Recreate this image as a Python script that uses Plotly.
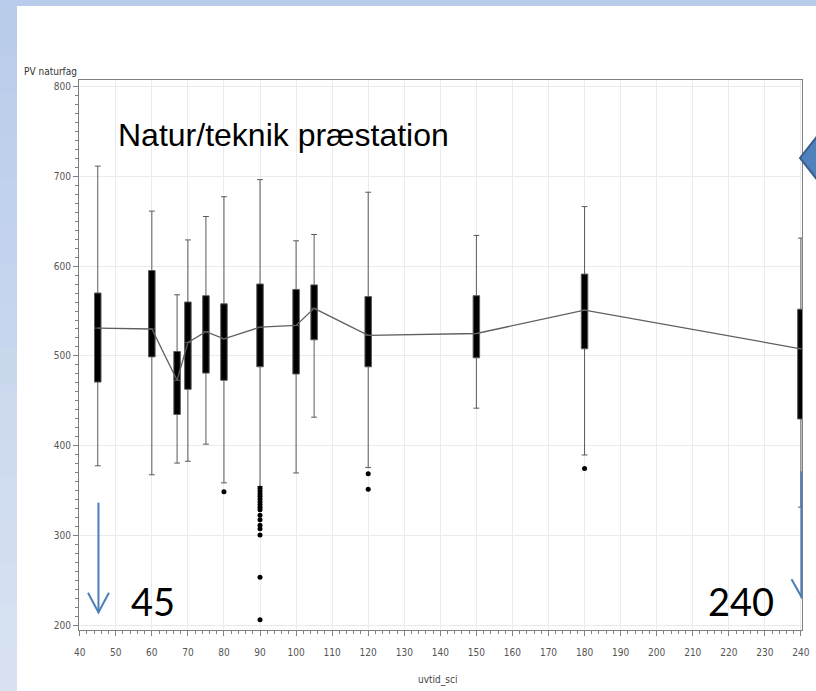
import plotly.graph_objects as go

# ---- data ----
uvtid = [45, 60, 67, 70, 75, 80, 90, 100, 105, 120, 150, 180, 240]
whisker_low = [378, 368, 381, 383, 402, 359, 355, 370, 432, 376, 442, 390, 332]
q1 = [471, 499, 435, 463, 481, 473, 488, 480, 518, 488, 498, 508, 430]
mean_pv = [531, 530, 473, 515, 527, 519, 532, 534, 553, 523, 525, 551, 508]
q3 = [570, 595, 505, 560, 567, 558, 580, 574, 579, 566, 567, 591, 552]
whisker_high = [711, 661, 568, 629, 655, 677, 696, 628, 635, 682, 634, 666, 631]

outlier_x = [80, 90, 90, 90, 90, 90, 90, 90, 90, 90, 90, 90, 90, 90, 90, 90, 90,
             120, 120, 180]
outlier_y = [349, 353, 350, 347, 344, 341, 338, 335, 332, 329, 323, 318, 312, 308, 301, 254, 207,
             369, 352, 375]

x_ticks = list(range(40, 241, 10))
y_ticks = list(range(200, 801, 100))

title_text = "Natur/teknik præstation"
y_title = "PV naturfag"
x_title = "uvtid_sci"
mark_left = "45"
mark_right = "240"

# ---- geometry helpers (page pixels -> paper) ----
W, H = 816, 691
L, R, T, B = 79, 14, 80, 61
PW, PH = W - L - R, H - T - B


def px(x):
    return (x - L) / PW


def py(y):
    return (H - B - y) / PH


fig = go.Figure()

fig.add_trace(go.Box(
    x=uvtid, q1=q1, median=mean_pv, q3=q3,
    lowerfence=whisker_low, upperfence=whisker_high,
    boxpoints=False, width=1.8, whiskerwidth=0.9,
    fillcolor="black", line=dict(color="#5a5a5a", width=1),
    showlegend=False, hoverinfo="skip",
))

fig.add_trace(go.Scatter(
    x=uvtid, y=mean_pv, mode="lines",
    line=dict(color="#5f5f5f", width=1.3),
    showlegend=False, hoverinfo="skip",
))

fig.add_trace(go.Scatter(
    x=outlier_x, y=outlier_y, mode="markers",
    marker=dict(color="black", size=5),
    showlegend=False, hoverinfo="skip",
))

small_font = "Liberation Sans Narrow, DejaVu Sans Condensed, Arial Narrow, Liberation Sans, sans-serif"

shapes = []
# slide background strips
shapes.append(dict(type="rect", xref="paper", yref="paper",
                   x0=px(-5), x1=px(W + 5), y0=py(6), y1=py(-5),
                   fillcolor="#b9cceb", line=dict(width=0), layer="below"))
n = 16
c0 = (0xB9, 0xCC, 0xEA)
c1 = (0xD8, 0xE2, 0xF2)
for i in range(n):
    t = i / (n - 1)
    col = "#%02x%02x%02x" % tuple(int(round(a + (b - a) * t)) for a, b in zip(c0, c1))
    y0 = 6 + (H - 6) * i / n
    y1 = 6 + (H - 6) * (i + 1) / n
    shapes.append(dict(type="rect", xref="paper", yref="paper",
                       x0=px(-5), x1=px(17), y0=py(y1 + 1), y1=py(y0),
                       fillcolor=col, line=dict(width=0), layer="below"))

blue = "#4a7ebb"
# left arrow (at 45)
shapes.append(dict(type="line", xref="x", yref="y", x0=45.2, x1=45.2, y0=337, y1=215,
                   line=dict(color=blue, width=2), layer="above"))
shapes.append(dict(type="path", xref="x", yref="y",
                   path="M 42.3 237 L 45.2 215 L 48.1 237",
                   line=dict(color=blue, width=2), layer="above"))
# right arrow (at 240)
shapes.append(dict(type="line", xref="x", yref="y", x0=240.2, x1=240.2, y0=372, y1=232,
                   line=dict(color=blue, width=2.5), layer="above"))
shapes.append(dict(type="path", xref="x", yref="y",
                   path="M 237.4 252 L 240.2 232 L 243.0 252",
                   line=dict(color=blue, width=2), layer="above"))
# callout chevron at the right edge
shapes.append(dict(type="path", xref="paper", yref="paper",
                   path=f"M {px(800)} {py(158)} L {px(818)} {py(135)} L {px(830)} {py(135)} "
                        f"L {px(830)} {py(181)} L {px(818)} {py(181)} Z",
                   fillcolor="#4f81bd", line=dict(color="#385d8a", width=2), layer="above"))

annotations = [
    dict(text=title_text, xref="paper", yref="paper", x=px(116), y=py(135),
         xanchor="left", yanchor="middle", showarrow=False,
         font=dict(family="Liberation Sans, Arial, sans-serif", size=32, color="black")),
    dict(text=mark_left, xref="paper", yref="paper", x=px(153), y=py(601),
         xanchor="center", yanchor="middle", showarrow=False,
         font=dict(family="Lato, Liberation Sans, sans-serif", size=38, color="black")),
    dict(text=mark_right, xref="paper", yref="paper", x=px(741), y=py(601),
         xanchor="center", yanchor="middle", showarrow=False,
         font=dict(family="Lato, Liberation Sans, sans-serif", size=38, color="black")),
    dict(text=y_title, xref="paper", yref="paper", x=px(22), y=py(72),
         xanchor="left", yanchor="middle", showarrow=False,
         font=dict(family=small_font, size=10, color="#333333")),
    dict(text=x_title, xref="paper", yref="paper", x=px(437), y=py(680),
         xanchor="center", yanchor="middle", showarrow=False,
         font=dict(family=small_font, size=10, color="#444444")),
]

fig.update_layout(
    width=W, height=H,
    margin=dict(l=L, r=R, t=T, b=B, pad=0, autoexpand=False),
    paper_bgcolor="white", plot_bgcolor="white",
    shapes=shapes, annotations=annotations,
    showlegend=False,
)

fig.update_xaxes(
    range=[39.8, 240.3], tickmode="array", tickvals=x_ticks,
    ticktext=[str(v) for v in x_ticks], automargin=False,
    showgrid=True, gridcolor="#ebebeb", gridwidth=1, zeroline=False,
    showline=True, mirror=True, linecolor="#808080", linewidth=1,
    ticks="outside", ticklen=5, tickcolor="#808080", ticklabelstandoff=8,
    minor=dict(dtick=2, tick0=40, ticks="outside", ticklen=3, tickcolor="#808080", showgrid=False),
    tickfont=dict(family=small_font, size=10, color="#555555"),
)
fig.update_yaxes(
    range=[195.5, 806.7], tickmode="array", tickvals=y_ticks,
    ticktext=[str(v) for v in y_ticks], automargin=False,
    showgrid=True, gridcolor="#ebebeb", gridwidth=1, zeroline=False,
    showline=True, mirror=True, linecolor="#808080", linewidth=1,
    ticks="outside", ticklen=5, tickcolor="#808080",
    minor=dict(dtick=10, tick0=200, ticks="outside", ticklen=3, tickcolor="#808080", showgrid=False),
    tickfont=dict(family=small_font, size=10, color="#555555"),
)

fig.write_html("out.html")
